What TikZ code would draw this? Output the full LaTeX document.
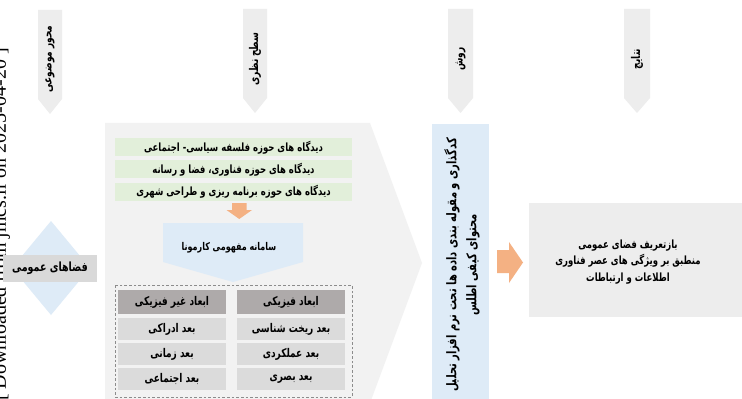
\documentclass[tikz,border=0pt]{standalone}
\usepackage{fontspec}
\TeXXeTstate=1
\newfontfamily\arf[Script=Arabic,FakeStretch=0.75]{DejaVu Sans}
\newfontfamily\wmf{Liberation Serif}
\newcommand{\prs}[1]{\beginR #1\endR}
\definecolor{tabgray}{HTML}{EDEDED}
\definecolor{panelgray}{HTML}{F2F2F2}
\definecolor{greenbox}{HTML}{E2EFDA}
\definecolor{orangearr}{HTML}{F4B183}
\definecolor{bluebox}{HTML}{DEEBF7}
\definecolor{headgray}{HTML}{AEAAAA}
\definecolor{cellgray}{HTML}{DBDBDB}
\definecolor{labelgray}{HTML}{D9D9D9}
\definecolor{dashgray}{HTML}{8C8C8C}
\begin{document}
\begin{tikzpicture}[x=0.75pt,y=-0.75pt,
  txt/.style={font=\arf\bfseries\fontsize{8.5}{10}\selectfont, inner sep=0pt, align=center, text=black},
  tabtxt/.style={txt, rotate=90, font=\arf\bfseries\fontsize{9}{10}\selectfont},
  greenrow/.style={txt, fill=greenbox, minimum width=177.75pt, minimum height=13.5pt},
  headcell/.style={txt, font=\arf\bfseries\fontsize{9}{10}\selectfont, fill=headgray, minimum width=81pt, minimum height=18pt},
  cell/.style={txt, font=\arf\bfseries\fontsize{9}{10}\selectfont, fill=cellgray, minimum width=81pt, minimum height=16.5pt}]
\useasboundingbox (0,0) rectangle (742,399);
\clip (0,0) rectangle (742,399);
\fill[white] (0,0) rectangle (742,399);

% watermark (cut off at the left edge)
\node[font=\wmf\fontsize{15}{17}\selectfont, rotate=90, anchor=base east, inner sep=0pt] (wm) at (6,48) {[ Downloaded from jmcs.ir on 2025-04-20 ]};

% header tabs
\fill[tabgray] (38,10) -- (62,10) -- (62,99) -- (50,114) -- (38,99) -- cycle;
\node[tabtxt] (t1) at (50,59) {\prs{محور موضوعی}};
\fill[tabgray] (243,9) -- (267,9) -- (267,98) -- (255,113) -- (243,98) -- cycle;
\node[tabtxt] (t2) at (255,59) {\prs{سطح نظری}};
\fill[tabgray] (448,9) -- (473,9) -- (473,98) -- (460.5,113) -- (448,98) -- cycle;
\node[tabtxt] (t3) at (460.5,59) {\prs{روش}};
\fill[tabgray] (624,9) -- (650,9) -- (650,98) -- (637,113) -- (624,98) -- cycle;
\node[tabtxt] (t4) at (637,59) {\prs{نتایج}};

% diamond
\fill[bluebox] (51,221) -- (90,268) -- (51,315) -- (12,268) -- cycle;
\node[txt, font=\arf\bfseries\fontsize{9.5}{10}\selectfont, fill=labelgray, minimum width=70.5pt, minimum height=20pt] (fz) at (50,268.5) {\prs{فضاهای عمومی}};

% big chevron panel
\fill[panelgray] (105,123) -- (370,123) -- (422,263) -- (370,403) -- (105,403) -- cycle;

% green rows
\node[greenrow] (g1) at (233.5,147.5) {\prs{دیدگاه های حوزه فلسفه سیاسی- اجتماعی}};
\node[greenrow] (g2) at (233.5,169.5) {\prs{دیدگاه های حوزه فناوری، فضا و رسانه}};
\node[greenrow] (g3) at (233.5,192) {\prs{دیدگاه های حوزه  برنامه ریزی و طراحی شهری}};

% orange down arrow
\fill[orangearr] (232,203) -- (246.5,203) -- (246.5,210) -- (252,210) -- (239.25,219) -- (226.5,210) -- (232,210) -- cycle;

% blue pentagon
\fill[bluebox] (163,223) -- (303,223) -- (303,262) -- (233,282) -- (163,262) -- cycle;
\node[txt, font=\arf\bfseries\fontsize{8}{10}\selectfont] (km) at (229,248) {\prs{سامانه مفهومی کارمونا}};

% dashed box
\draw[dashgray, line width=0.6pt, dash pattern=on 2pt off 1.5pt] (115,285) rectangle (352,397);

% table
\node[headcell] (h1) at (172,302) {\prs{ابعاد غیر فیزیکی}};
\node[headcell] (h2) at (291,302) {\prs{ابعاد فیزیکی}};
\node[cell] (c11) at (172,329) {\prs{بعد ادراکی}};
\node[cell] (c12) at (291,329) {\prs{بعد ریخت شناسی}};
\node[cell] (c21) at (172,354) {\prs{بعد زمانی}};
\node[cell] (c22) at (291,354) {\prs{بعد عملکردی}};
\node[cell] (c31) at (172,379) {\prs{بعد اجتماعی}};
\node[cell] (c32) at (291,379) {\prs{بعد بصری}};

% blue vertical method box
\fill[bluebox] (432,124) rectangle (489,404);
\node[txt, rotate=90, font=\arf\bfseries\fontsize{10}{15}\selectfont] (mt) at (462,265)
  {\prs{کدگذاری و مقوله بندی داده ها تحت نرم افزار تحلیل}\\\prs{محتوای کیفی اطلس}};

% orange right arrow
\fill[orangearr] (497,250) -- (509,250) -- (509,242) -- (523,262.5) -- (509,283) -- (509,273) -- (497,273) -- cycle;

% result box
\fill[tabgray] (529,203) rectangle (742,317);
\node[txt, font=\arf\bfseries\fontsize{8.5}{12.5}\selectfont] (res) at (628,262)
  {\prs{بازتعریف فضای عمومی}\\\prs{منطبق بر ویژگی های عصر فناوری}\\\prs{اطلاعات و ارتباطات}};
\end{tikzpicture}
\end{document}
